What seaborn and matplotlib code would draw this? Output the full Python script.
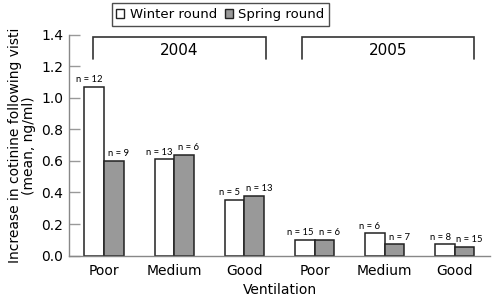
import matplotlib.pyplot as plt
import pandas as pd
import seaborn as sns
from matplotlib.patches import Patch

# Values.
groups = ["2004 Poor", "2004 Medium", "2004 Good", "2005 Poor", "2005 Medium", "2005 Good"]
tick_labels = ["Poor", "Medium", "Good", "Poor", "Medium", "Good"]
winter = [1.07, 0.61, 0.355, 0.10, 0.14, 0.07]
spring = [0.60, 0.64, 0.38, 0.10, 0.07, 0.055]
winter_n = ["n = 12", "n = 13", "n = 5", "n = 15", "n = 6", "n = 8"]
spring_n = ["n = 9", "n = 6", "n = 13", "n = 6", "n = 7", "n = 15"]
years = ["2004", "2005"]

df = pd.DataFrame(
    {
        "group": groups * 2,
        "round": ["Winter round"] * 6 + ["Spring round"] * 6,
        "value": winter + spring,
    }
)

sns.set_style("white", {"text.color": "black", "xtick.color": "black",
                        "ytick.color": "black", "axes.labelcolor": "black"})
plt.rcParams["font.family"] = ["DejaVu Sans"]

fig = plt.figure(figsize=(4.94, 2.98), dpi=100)
ax = fig.add_axes([0.1397, 0.1426, 0.852, 0.74])

palette = {"Winter round": "white", "Spring round": "#999999"}
sns.barplot(
    data=df, x="group", y="value", hue="round", order=groups,
    hue_order=["Winter round", "Spring round"], palette=palette,
    width=0.56, gap=0, edgecolor="#222222", linewidth=1.1,
    legend=False, ax=ax,
)

# n labels, nudged apart like the original
for cont, labs, dx in zip(ax.containers, [winter_n, spring_n], [-3.5, 3.5]):
    anns = ax.bar_label(cont, labels=labs, fontsize=6.8, padding=2, family="Lato")
    for a in anns:
        a.xyann = (dx, a.xyann[1])

ax.set_xlim(-0.5, 5.5)
ax.set_ylim(0, 1.4)
ax.set_yticks([0, 0.2, 0.4, 0.6, 0.8, 1.0, 1.2, 1.4])
ax.set_yticklabels(["0.0", "0.2", "0.4", "0.6", "0.8", "1.0", "1.2", "1.4"], fontsize=10)
ax.set_xticks(range(6))
ax.set_xticklabels(tick_labels, fontsize=10)
ax.set_xticks([0.5, 1.5, 2.5, 3.5, 4.5], minor=True)
ax.tick_params(axis="x", which="major", length=0, pad=6)
ax.tick_params(axis="x", which="minor", direction="in", length=8, color="#999999", width=1)
ax.tick_params(axis="y", direction="in", length=8, color="#999999", width=1, pad=4)
ax.tick_params(axis="y", left=True)

for side in ["top", "right"]:
    ax.spines[side].set_visible(False)
for side in ["left", "bottom"]:
    ax.spines[side].set_color("#888888")
    ax.spines[side].set_linewidth(1)

ax.set_xlabel("Ventilation", fontsize=10, labelpad=4)
ax.set_ylabel("Increase in cotinine following visti\n(mean, ng/ml)", fontsize=10,
              labelpad=4, linespacing=1.0)

# Year brackets
brackets = [(-0.16, 2.31), (2.82, 5.27)]
for (x0, x1), yr in zip(brackets, years):
    ax.plot([x0, x0, x1, x1], [1.245, 1.385, 1.385, 1.245], color="#333333",
            lw=1.2, clip_on=False, solid_joinstyle="miter")
    ax.text((x0 + x1) / 2, 1.30, yr, ha="center", va="center", fontsize=11)

handles = [
    Patch(facecolor="white", edgecolor="#222222", label="Winter round"),
    Patch(facecolor="#999999", edgecolor="#222222", label="Spring round"),
]
fig.legend(handles=handles, loc="center", bbox_to_anchor=(0.446, 0.951), ncol=2,
           fontsize=9.5, frameon=True, fancybox=False, edgecolor="#222222",
           handlelength=0.6, handleheight=0.6, handletextpad=0.4, columnspacing=0.6,
           borderpad=0.35)

fig.savefig("out.png", dpi=100)
